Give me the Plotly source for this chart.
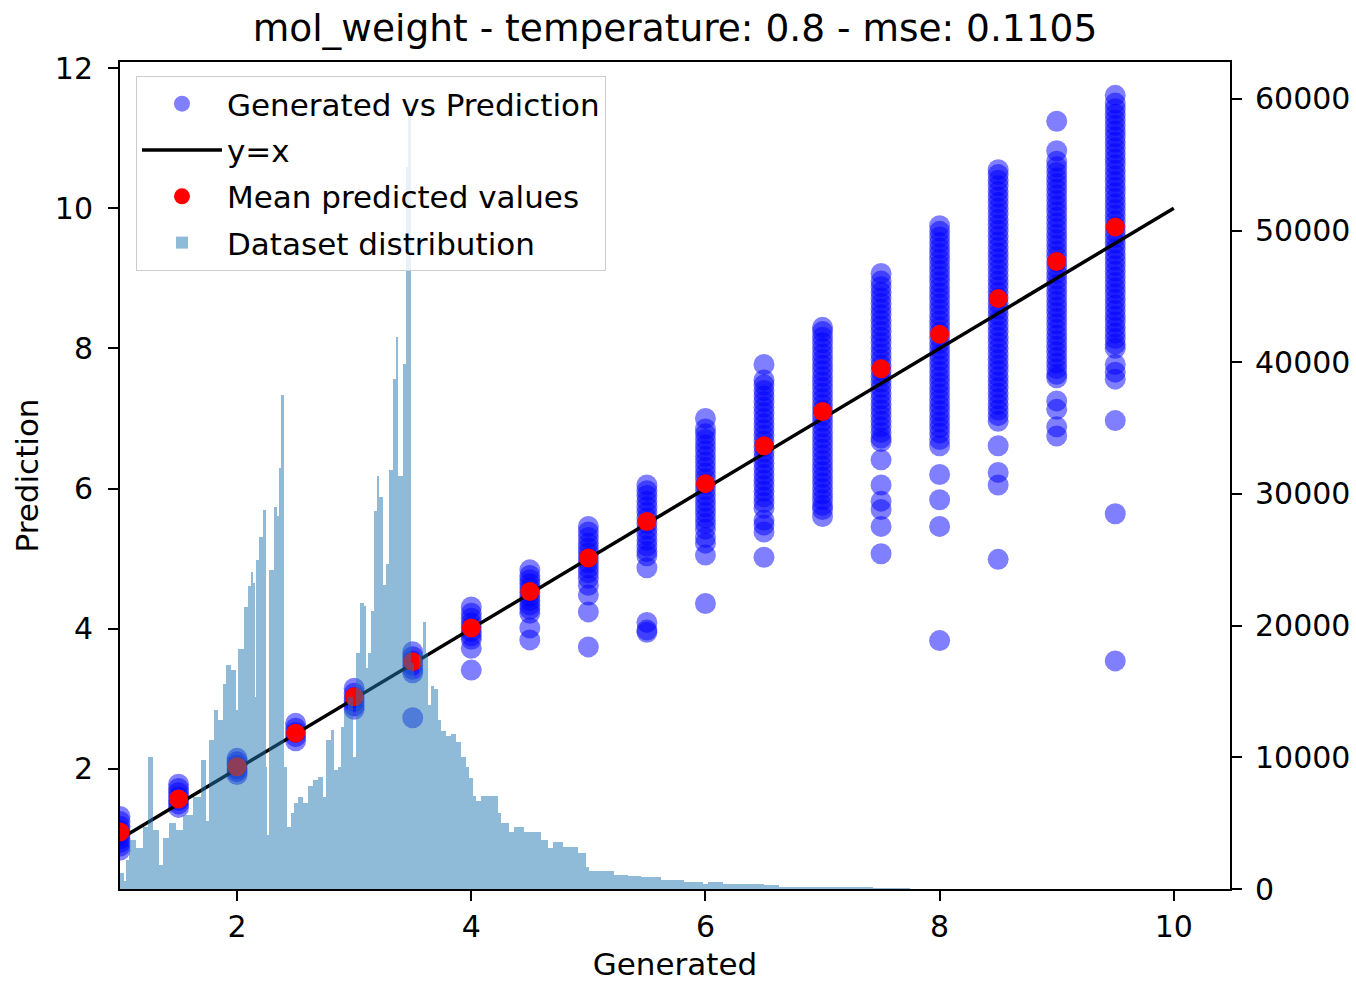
import plotly.graph_objects as go

# ---------------- data ----------------
gen_levels = [1.0, 1.5, 2.0, 2.5, 3.0, 3.5, 4.0, 4.5, 5.0, 5.5, 6.0, 6.5, 7.0, 7.5, 8.0, 8.5, 9.0, 9.5]

pred_1_0 = [1.32, 1.25, 1.18, 1.12, 1.06, 1.0, 0.95, 0.9, 0.84]
pred_1_5 = [1.78, 1.72, 1.66, 1.6, 1.55, 1.5, 1.45]
pred_2_0 = [2.15, 2.1, 2.05, 2.0, 1.96, 1.92]
pred_2_5 = [2.65, 2.58, 2.52, 2.46, 2.4]
pred_3_0 = [3.15, 3.08, 3.02, 2.96, 2.9, 2.85]
pred_3_5 = [3.67, 3.6, 3.54, 3.48, 3.42, 3.37, 2.73]
pred_4_0 = [4.31, 4.22, 4.15, 4.08, 4.02, 3.96, 3.9, 3.85, 3.72, 3.41]
pred_4_5 = [4.84, 4.76, 4.7, 4.64, 4.58, 4.52, 4.46, 4.4, 4.34, 4.28, 4.22, 4.01, 3.84]
pred_5_0 = [5.46, 5.38, 5.3, 5.22, 5.15, 5.08, 5.01, 4.94, 4.87, 4.8, 4.72, 4.62, 4.48, 4.24, 3.74]
pred_5_5 = [6.05, 5.97, 5.9, 5.82, 5.74, 5.66, 5.58, 5.5, 5.42, 5.34, 5.26, 5.18, 5.1, 5.04,
            4.87, 4.09, 3.98, 3.95]
pred_6_0 = [7.0, 6.85, 6.78, 6.7, 6.62, 6.54, 6.46, 6.38, 6.3, 6.22, 6.14, 6.06, 5.98, 5.9,
            5.82, 5.74, 5.66, 5.58, 5.5, 5.42, 5.3, 5.22, 5.05, 4.36]
pred_6_5 = [7.77, 7.55, 7.48, 7.4, 7.32, 7.24, 7.16, 7.08, 7.0, 6.92, 6.84, 6.76, 6.68, 6.6,
            6.52, 6.44, 6.36, 6.28, 6.2, 6.12, 6.04, 5.96, 5.88, 5.8, 5.72, 5.55, 5.48, 5.38, 5.02]
pred_7_0 = [8.30, 8.24, 8.16, 8.08, 8.00, 7.92, 7.84, 7.76, 7.68, 7.60, 7.52, 7.44, 7.36, 7.28,
            7.20, 7.12, 7.04, 6.96, 6.88, 6.80, 6.72, 6.64, 6.56, 6.48, 6.40, 6.32, 6.24, 6.16,
            6.08, 6.00, 5.92, 5.84, 5.76, 5.70, 5.60]
pred_7_5 = [9.07, 8.96, 8.88, 8.80, 8.72, 8.64, 8.56, 8.48, 8.40, 8.32, 8.24, 8.16, 8.08, 8.00,
            7.92, 7.84, 7.76, 7.68, 7.60, 7.52, 7.44, 7.36, 7.28, 7.20, 7.12, 7.04, 6.96, 6.88,
            6.80, 6.72, 6.67, 6.41, 6.05, 5.82, 5.70, 5.46, 5.07]
pred_8_0 = [9.75, 9.67, 9.59, 9.51, 9.43, 9.35, 9.27, 9.19, 9.11, 9.03, 8.95, 8.87, 8.79, 8.71,
            8.63, 8.55, 8.47, 8.39, 8.31, 8.23, 8.15, 8.07, 7.99, 7.91, 7.83, 7.75, 7.67, 7.59,
            7.51, 7.43, 7.35, 7.27, 7.19, 7.11, 7.03, 6.95, 6.87, 6.79, 6.70, 6.61, 6.20, 5.84,
            5.46, 3.83]
pred_8_5 = [10.55, 10.48, 10.40, 10.32, 10.24, 10.16, 10.08, 10.00, 9.92, 9.84, 9.76, 9.68, 9.60,
            9.52, 9.44, 9.36, 9.28, 9.20, 9.12, 9.04, 8.96, 8.88, 8.80, 8.72, 8.64, 8.56, 8.48,
            8.40, 8.32, 8.24, 8.16, 8.08, 8.00, 7.92, 7.84, 7.76, 7.68, 7.60, 7.52, 7.44, 7.36,
            7.28, 7.20, 7.12, 7.04, 6.96, 6.61, 6.23, 6.05, 4.99]
pred_9_0 = [11.24, 10.82, 10.67, 10.59, 10.51, 10.43, 10.35, 10.27, 10.19, 10.11, 10.03, 9.95,
            9.87, 9.79, 9.71, 9.63, 9.55, 9.47, 9.39, 9.31, 9.23, 9.15, 9.07, 8.99, 8.91, 8.83,
            8.75, 8.67, 8.59, 8.51, 8.43, 8.35, 8.27, 8.19, 8.11, 8.03, 7.95, 7.87, 7.79, 7.71,
            7.63, 7.58, 7.25, 7.13, 6.88, 6.75]
pred_9_5 = [11.61, 11.50, 11.42, 11.34, 11.26, 11.18, 11.10, 11.02, 10.94, 10.86, 10.78, 10.70,
            10.62, 10.54, 10.46, 10.38, 10.30, 10.22, 10.14, 10.06, 9.98, 9.90, 9.82, 9.74, 9.66,
            9.58, 9.50, 9.42, 9.34, 9.26, 9.18, 9.10, 9.02, 8.94, 8.86, 8.78, 8.70, 8.62, 8.54,
            8.46, 8.38, 8.30, 8.22, 8.14, 8.06, 8.00, 7.77, 7.66, 7.56, 6.97, 5.64, 3.54]

pred_by_level = [pred_1_0, pred_1_5, pred_2_0, pred_2_5, pred_3_0, pred_3_5, pred_4_0, pred_4_5,
                 pred_5_0, pred_5_5, pred_6_0, pred_6_5, pred_7_0, pred_7_5, pred_8_0, pred_8_5,
                 pred_9_0, pred_9_5]

mean_pred = [1.10, 1.57, 2.03, 2.51, 3.03, 3.53, 4.01, 4.53, 5.01, 5.53, 6.07, 6.61, 7.10, 7.71,
             8.20, 8.71, 9.24, 9.73]

line_xy = [1.0, 10.0]

# dataset distribution histogram (bin edges, counts)
hist_edges = [1.00, 1.03, 1.05, 1.08, 1.14, 1.20, 1.24, 1.28, 1.33, 1.37, 1.42, 1.48, 1.54, 1.62,
              1.69, 1.735, 1.76, 1.80, 1.84, 1.88, 1.905, 1.95, 1.99, 2.01, 2.06, 2.094, 2.12,
              2.137, 2.154, 2.162, 2.188, 2.222, 2.247, 2.258, 2.27, 2.316, 2.341, 2.358, 2.375,
              2.401, 2.43, 2.461, 2.486, 2.52, 2.563, 2.606, 2.648, 2.691, 2.734, 2.759, 2.802,
              2.828, 2.862, 2.887, 2.913, 2.947, 2.99, 3.015, 3.049, 3.084, 3.10, 3.118, 3.143,
              3.169, 3.195, 3.212, 3.246, 3.271, 3.297, 3.331, 3.357, 3.374, 3.416, 3.442, 3.459,
              3.485, 3.51, 3.553, 3.587, 3.613, 3.63, 3.655, 3.681, 3.715, 3.741, 3.783, 3.826,
              3.869, 3.911, 3.954, 3.98, 4.014, 4.039, 4.082, 4.227, 4.253, 4.321, 4.363, 4.449,
              4.594, 4.654, 4.696, 4.782, 4.91, 4.978, 5.003, 5.217, 5.336, 5.447, 5.618, 5.814,
              5.976, 6.019, 6.147, 6.497, 6.625, 7.435, 7.64, 7.75, 8.2]
hist_counts = [1200, 600, 2200, 3700, 3100, 4700, 10000, 4500, 1800, 3900, 5000, 4500, 5600,
               7000, 9800, 5200, 11300, 13600, 12800, 15600, 17000, 16600, 13600, 18200, 21400,
               23000, 24100, 23200, 14600, 25000, 26700, 28800, 9300, 4100, 24200, 29000, 28300,
               32000, 37500, 9300, 4700, 5800, 6500, 7000, 6500, 7800, 8300, 8500, 7000, 11300,
               12100, 9000, 9300, 12300, 13600, 14600, 10000, 17900, 21700, 21500, 16800, 17900,
               21100, 28700, 31400, 29800, 23100, 24700, 31800, 38700, 41900, 31400, 39900, 54800,
               59900, 17200, 16000, 17900, 20300, 17900, 14000, 15400, 15200, 12800, 12000, 11600,
               11800, 11200, 10000, 9300, 8400, 7100, 6700, 7100, 5800, 5000, 4300, 4700, 4300,
               3700, 3100, 3600, 3200, 2700, 1700, 1400, 1100, 1000, 900, 700, 500, 400, 500, 350,
               300, 150, 100, 50, 30]

x_ticks = [2, 4, 6, 8, 10]
y_ticks = [2, 4, 6, 8, 10, 12]
y2_ticks = [0, 10000, 20000, 30000, 40000, 50000, 60000]

title_text = "mol_weight - temperature: 0.8 - mse: 0.1105"

# ---------------- build ----------------
scatter_x, scatter_y = [], []
for g, vals in zip(gen_levels, pred_by_level):
    for v in vals:
        scatter_x.append(g)
        scatter_y.append(v)

bar_x = [(a + b) / 2 for a, b in zip(hist_edges[:-1], hist_edges[1:])]
bar_w = [b - a for a, b in zip(hist_edges[:-1], hist_edges[1:])]

FONT = "DejaVu Sans"
FS = 31      # legend / axis titles
TFS = 30     # tick labels
fig = go.Figure()
fig.add_trace(go.Scatter(
    x=scatter_x, y=scatter_y, mode="markers", name="Generated vs Prediction",
    marker=dict(size=21, color="rgba(0,0,255,0.5)", line=dict(width=0)),
    legendgroup="a"))
fig.add_trace(go.Scatter(
    x=line_xy, y=line_xy, mode="lines", name="y=x",
    line=dict(color="black", width=3.5), legendgroup="b"))
fig.add_trace(go.Scatter(
    x=gen_levels, y=mean_pred, mode="markers", name="Mean predicted values",
    marker=dict(size=19, color="red", line=dict(width=0)), legendgroup="c"))
fig.add_trace(go.Bar(
    x=bar_x, y=hist_counts, width=bar_w, name="Dataset distribution",
    marker=dict(color="rgba(31,119,180,0.5)", line=dict(width=0)),
    yaxis="y2", legendgroup="d"))

axis_common = dict(showline=True, linecolor="black", linewidth=2, ticks="outside",
                   ticklen=10, tickwidth=2, tickcolor="black", showgrid=False,
                   zeroline=False, automargin=False,
                   tickfont=dict(family=FONT, size=TFS, color="black"))

fig.update_layout(
    width=1356, height=982, autosize=False,
    margin=dict(l=120, r=126, t=62, b=93, autoexpand=False),
    paper_bgcolor="white", plot_bgcolor="white",
    font=dict(family=FONT, size=FS, color="black"),
    title=dict(text=title_text, x=0.5, xref="paper", y=1 - 28 / 982, yref="container",
               xanchor="center", yanchor="middle", automargin=False,
               font=dict(family=FONT, size=37.5, color="black")),
    xaxis=dict(range=[1.0, 10.48], tickvals=x_ticks, mirror=True, ticklabelstandoff=0,
               title=dict(text="Generated", font=dict(family=FONT, size=FS), standoff=10),
               **axis_common),
    yaxis=dict(range=[0.286, 12.086], tickvals=y_ticks, mirror=True, ticklabelstandoff=9,
               title=dict(text="Prediction", font=dict(family=FONT, size=FS), standoff=7),
               **axis_common),
    yaxis2=dict(range=[0, 62800], tickvals=y2_ticks, overlaying="y", side="right",
                tickformat="d", ticklabelstandoff=7, **axis_common),
    bargap=0,
    showlegend=True,
    legend=dict(x=0.0144, y=0.983, xanchor="left", yanchor="top",
                bgcolor="rgba(255,255,255,0.8)", bordercolor="#cccccc", borderwidth=1,
                font=dict(family=FONT, size=FS, color="black"),
                traceorder="grouped", tracegroupgap=3, itemwidth=80),
)

# remove the page's default body margin so the figure sits at the window's top-left corner
fig.write_html("out.html", config={"displayModeBar": False},
               post_script="document.body.style.margin='0';")
